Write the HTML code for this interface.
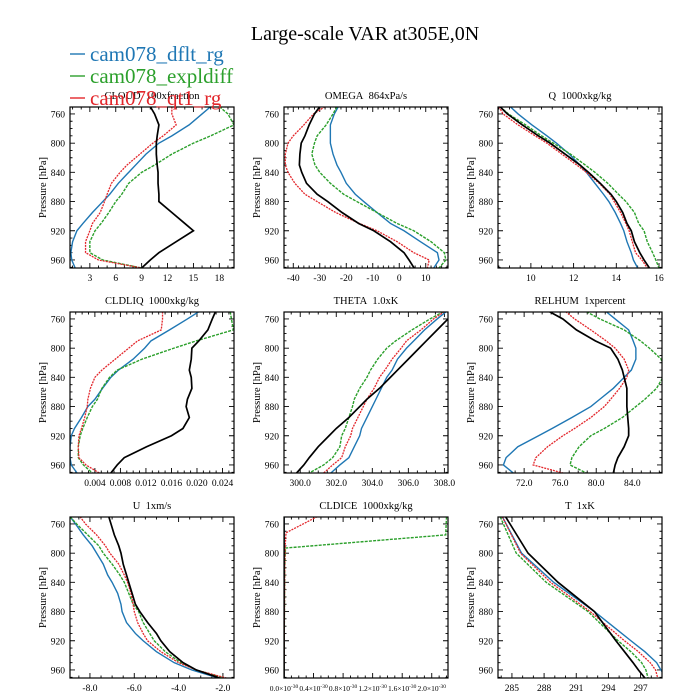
<!DOCTYPE html>
<html><head><meta charset="utf-8"><style>
html,body{margin:0;padding:0;background:#fff}
svg{display:block;font-family:"Liberation Serif","DejaVu Serif",serif}
</style></head><body>
<svg id="chart" width="700" height="700" viewBox="0 0 700 700">
<text x="365" y="40" text-anchor="middle" font-size="20">Large-scale VAR at305E,0N</text>
</svg>
<script>
// shared pressure levels (hPa)
const levels = [750,760,775,790,800,815,830,840,855,870,880,895,910,920,935,950,960,971];
const seriesNames = ["cam078_dflt_rg","cam078_expldiff","cam078_qt1_rg","obs"];

// CLOUD 100xfraction
const cloudBlue  = [17,16,14.5,12.5,11,9.5,8.3,7.5,6.3,5.3,4.5,3.3,2.2,1.5,1,0.8,0.9,1.3];
const cloudGreen = [18,19,19.7,17,15,12.5,10.5,9,7.5,6.7,6,5.2,4.3,3.6,3,3,4.5,9];
const cloudRed   = [12.5,12.5,13,11.5,10.3,8.8,7.3,6.5,5.5,5,4.7,4.2,3.3,3,2.5,2.5,4,9];
const cloudBlack = [10,10.5,11,10.8,10.7,10.7,10.8,10.9,10.9,11,11,12.5,14,15,13,11,10,9];
const cloudTicks = [3,6,9,12,15,18];
// OMEGA
const omegaBlue  = [-23,-24.5,-26,-26,-26,-25,-23.5,-22,-20,-16.6,-13.4,-8.4,-3.3,1.8,8,14.4,15,13];
const omegaGreen = [-23.5,-25,-27.6,-31,-32,-33,-31.8,-30,-26,-21,-16,-8.4,-0.8,5.5,12,17,17.6,15];
const omegaRed   = [-28,-32.4,-36,-40,-42,-43,-43,-42,-39.4,-35.6,-31,-24,-15,-8.4,-0.8,5.5,11.3,10.6];
const omegaBlack = [-30,-32,-34,-35.6,-37,-37.5,-37.7,-36.8,-35,-31,-27,-21.6,-15.3,-9.6,-3.3,1.8,3.7,5.6];
const omegaTicks = [-40,-30,-20,-10,0,10];
// Q
const qBlue  = [9.03,9.4,10.05,10.75,11.2,11.8,12.3,12.6,13.0,13.4,13.65,13.95,14.2,14.35,14.5,14.7,14.8,15.0];
const qGreen = [8.55,8.95,9.75,10.5,11.05,11.85,12.55,13.0,13.6,14.1,14.45,14.85,15.05,15.3,15.45,15.7,15.85,16.0];
const qRed   = [8.5,8.7,9.4,10.2,10.75,11.45,12.15,12.6,13.2,13.7,13.9,14.2,14.45,14.6,14.75,14.9,15.2,15.45];
const qBlack = [8.55,8.9,9.6,10.35,10.9,11.6,12.3,12.7,13.25,13.75,14.0,14.3,14.5,14.7,14.85,15.1,15.3,15.55];
const qTicks = [10,12,14,16];
// CLDLIQ
const liqBlue  = [0.0203,0.0185,0.0157,0.0128,0.0118,0.010,0.0077,0.0065,0.0052,0.004,0.0029,0.0019,0.0008,0.0003,0.0001,0.0001,0.0003,0.0012];
const liqGreen = [0.0252,0.0254,0.0257,0.0199,0.0164,0.0114,0.0075,0.0063,0.0051,0.0044,0.0036,0.0028,0.0021,0.0017,0.0014,0.0014,0.0022,0.0036];
const liqRed   = [0.0146,0.0146,0.0144,0.0107,0.0093,0.0072,0.0051,0.004,0.0033,0.0029,0.0028,0.0024,0.0019,0.0015,0.0014,0.0015,0.0026,0.0047];
const liqBlack = [0.0229,0.0224,0.0217,0.0203,0.0192,0.0191,0.0188,0.0191,0.0192,0.0185,0.0183,0.0188,0.0178,0.016,0.0121,0.0086,0.0075,0.0065];
const liqTicks = [0.004,0.008,0.012,0.016,0.020,0.024];
// THETA
const thBlue  = [308.1,307.6,306.9,306.3,305.9,305.4,305.1,304.8,304.5,304.2,304.0,303.7,303.4,303.3,303.0,302.7,302.2,301.7];
const thGreen = [307.95,307.2,306.2,305.3,304.8,304.3,303.9,303.7,303.3,303.0,302.9,302.7,302.5,302.3,302.2,301.8,301.3,300.5];
const thRed   = [308.0,307.4,306.7,305.9,305.6,305.1,304.7,304.4,304.1,303.7,303.5,303.2,302.9,302.8,302.5,302.3,301.8,301.3];
const thBlack = [308.6,308.2,307.6,307.0,306.6,306.0,305.4,305.0,304.4,303.7,303.3,302.7,302.0,301.6,301.0,300.5,300.2,299.8];
const thTicks = [300,302,304,306,308];
// RELHUM
const rhBlue  = [81.1,82.1,83.6,84.1,84.4,84.4,83.9,83.1,81.9,80.4,79.4,77.3,75.1,73.6,71.3,70.0,69.7,70.8];
const rhGreen = [78.9,80.4,83.1,84.9,85.9,87.2,87.6,87.4,86.7,85.4,84.4,82.9,80.9,79.4,78.1,77.3,77.1,78.9];
const rhRed   = [76.6,77.6,79.4,81.1,82.1,83.1,83.6,83.4,82.6,81.6,80.9,79.4,77.6,76.3,74.6,73.3,73.0,76.3];
const rhBlack = [74.8,76.3,77.8,79.9,81.6,82.4,82.9,83.1,83.4,83.4,83.4,83.5,83.6,83.6,83.1,82.4,82.1,81.9];
const rhTicks = [72,76,80,84];
// U
const uBlue  = [-8.9,-8.65,-8.3,-7.9,-7.7,-7.4,-7.2,-7.0,-6.75,-6.6,-6.55,-6.35,-5.95,-5.6,-5.0,-4.2,-3.4,-2.2];
const uGreen = [-8.9,-8.6,-8.1,-7.6,-7.4,-7.0,-6.65,-6.45,-6.25,-6.05,-5.8,-5.6,-5.3,-5.1,-4.6,-3.9,-3.2,-1.95];
const uRed   = [-8.45,-8.2,-7.7,-7.3,-7.1,-6.7,-6.45,-6.3,-6.15,-6.05,-6.0,-5.85,-5.6,-5.4,-4.8,-4.0,-3.2,-1.85];
const uBlack = [-7.15,-7.05,-6.9,-6.7,-6.6,-6.5,-6.35,-6.25,-6.1,-5.95,-5.75,-5.4,-5.0,-4.8,-4.4,-3.8,-3.2,-2.15];
const uTicks = [-8,-6,-4,-2];
// CLDICE (values in units of 1e-30)
const iceLevels = [750,772,775,793,820,971];
const iceBlue  = [0,0,0,0,0,0];
const iceGreen = [2.2,2.19,2.19,0.02,0.01,0.0];
const iceRed   = [0.45,0.03,0.025,0.015,0.01,0.0];
const iceBlack = [0,0,0,0,0,0];
const iceTicks = [0,0.4,0.8,1.2,1.6,2.0];
// T
const tLevels = [750,800,840,880,920,935,950,960,971];
const tBlue  = [284.1,285.9,288.9,292.7,296.1,297.4,298.5,298.9,299.4];
const tGreen = [283.9,285.4,288.2,292.1,294.9,296.1,297.1,297.5,297.7];
const tRed   = [284.1,285.8,288.6,292.3,295.5,296.8,297.9,298.4,298.6];
const tBlack = [284.4,286.5,289.3,292.7,294.7,295.5,296.3,296.8,297.4];
const tTicks = [285,288,291,294,297];

const pTicks = [760,800,840,880,920,960];
const NS='http://www.w3.org/2000/svg';
const svg=document.getElementById('chart');
function mk(tag,attrs,parent){const e=document.createElementNS(NS,tag);for(const k in attrs)e.setAttribute(k,attrs[k]);(parent||svg).appendChild(e);return e;}

const colors=['#1f77b4','#2ca02c','#e3262b','#000000'];
const dashes=['none','3,1.2','2,1','none'];
const widths=[1.4,1.4,1.3,1.7];

const cols=[70,284,498], rows=[107,312,517], W=164, H=161;
const panels=[
 {id:'cloud',title:'CLOUD\u00a0\u00a0100xfraction',xmin:0.7,xmax:19.7,lev:levels,s:[cloudBlue,cloudGreen,cloudRed,cloudBlack],ticks:cloudTicks,fmt:v=>String(v),minor:3},
 {id:'omega',title:'OMEGA\u00a0\u00a0864xPa/s',xmin:-43.5,xmax:18.4,lev:levels,s:[omegaBlue,omegaGreen,omegaRed,omegaBlack],ticks:omegaTicks,fmt:v=>String(v),minor:5},
 {id:'q',title:'Q\u00a0\u00a01000xkg/kg',xmin:8.46,xmax:16.14,lev:levels,s:[qBlue,qGreen,qRed,qBlack],ticks:qTicks,fmt:v=>String(v),minor:4},
 {id:'cldliq',title:'CLDLIQ\u00a0\u00a01000xkg/kg',xmin:0.0001,xmax:0.0258,lev:levels,s:[liqBlue,liqGreen,liqRed,liqBlack],ticks:liqTicks,fmt:v=>v.toFixed(3),minor:4},
 {id:'theta',title:'THETA\u00a0\u00a01.0xK',xmin:299.1,xmax:308.2,lev:levels,s:[thBlue,thGreen,thRed,thBlack],ticks:thTicks,fmt:v=>v.toFixed(1),minor:4},
 {id:'relhum',title:'RELHUM\u00a0\u00a01xpercent',xmin:69.1,xmax:87.3,lev:levels,s:[rhBlue,rhGreen,rhRed,rhBlack],ticks:rhTicks,fmt:v=>v.toFixed(1),minor:4},
 {id:'u',title:'U\u00a0\u00a01xm/s',xmin:-8.9,xmax:-1.5,lev:levels,s:[uBlue,uGreen,uRed,uBlack],ticks:uTicks,fmt:v=>v.toFixed(1),minor:4},
 {id:'cldice',title:'CLDICE\u00a0\u00a01000xkg/kg',xmin:0,xmax:2.22,lev:iceLevels,s:[iceBlue,iceGreen,iceRed,iceBlack],ticks:iceTicks,fmt:null,minor:4},
 {id:'t',title:'T\u00a0\u00a01xK',xmin:283.7,xmax:299.0,lev:tLevels,s:[tBlue,tGreen,tRed,tBlack],ticks:tTicks,fmt:v=>String(v),minor:3}
];
const PMIN=750.5, PMAX=971;

panels.forEach((P,i)=>{
 const x0=cols[i%3], y0=rows[Math.floor(i/3)];
 const g=mk('g',{});
 
 
 const sx=v=>x0+(v-P.xmin)/(P.xmax-P.xmin)*W;
 const sy=p=>y0+(p-PMIN)/(PMAX-PMIN)*H;
 const cp=mk('clipPath',{id:'clip'+i},g);
 mk('rect',{x:x0,y:y0,width:W,height:H},cp);
 const t=mk('text',{x:x0+W/2,y:y0-8,'text-anchor':'middle','font-size':10.5},g);
 t.textContent=P.title;
 
 
 const yt=mk('text',{x:0,y:0,'text-anchor':'middle','font-size':10.5,transform:`translate(${x0-24},${y0+H/2}) rotate(-90)`},g);
 yt.textContent='Pressure [hPa]';
 
 
 let tk='';
 for(let p=760;p<=970;p+=10){const y=sy(p);const L=(p%40===0)?5:2.5;tk+=`M${x0},${y}h${L}M${x0+W},${y}h${-L}`;}
 pTicks.forEach(p=>{const l=mk('text',{x:x0-5,y:sy(p)+3.5,'text-anchor':'end','font-size':9.5},g);l.textContent=p;
  
  });
 const step=P.ticks[1]-P.ticks[0], ms=step/P.minor;
 for(let k=-50;k<=50*P.minor;k++){const v=P.ticks[0]+k*ms; if(v<P.xmin-1e-9||v>P.xmax+1e-9)continue; const x=sx(v); const major=(Math.abs(k%P.minor)===0); const L=major?5:2.5; tk+=`M${x},${y0+H}v${-L}M${x},${y0}v${L}`;}
 mk('path',{d:tk,stroke:'#000','stroke-width':0.9,fill:'none'},g);
 P.ticks.forEach(v=>{
  const l=mk('text',{x:sx(v),y:y0+H+13,'text-anchor':'middle','font-size':P.fmt?9.5:7.5},g);
  
  
  if(P.fmt){l.textContent=P.fmt(v);}
  else{l.textContent=v.toFixed(1)+'×10';const s=mk('tspan',{dy:-3,'font-size':5.5},l);s.textContent='-30';}
 });
 P.s.forEach((arr,j)=>{
  let d='';arr.forEach((v,k)=>{d+=(k?'L':'M')+sx(v).toFixed(2)+','+sy(P.lev[k]).toFixed(2);});
  const pa=mk('path',{d:d,fill:'none',stroke:colors[j],'stroke-width':widths[j],'stroke-dasharray':dashes[j],'clip-path':`url(#clip${i})`},g);
  
  
 });
 const fr=mk('rect',{x:x0,y:y0,width:W,height:H,fill:'none',stroke:'#000','stroke-width':1.2},g);
 
 
});

const legendLabels=["cam078_dflt_rg","cam078_expldiff","cam078_qt1_rg"];
legendLabels.forEach((lab,j)=>{
 const y=54+j*22;
 const g=mk('g',{});
 
 
 mk('line',{x1:70,x2:85,y1:y,y2:y,stroke:colors[j],'stroke-width':1.4},g);
 const t=mk('text',{x:90,y:y+7,'font-size':21,fill:colors[j]},g);
 t.textContent=lab;
});
</script>
</body></html>
